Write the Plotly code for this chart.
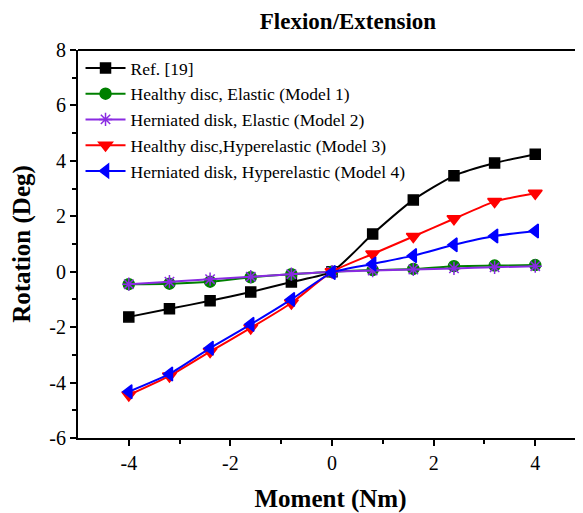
import plotly.graph_objects as go

moment = [-4, -3.2, -2.4, -1.6, -0.8, 0, 0.8, 1.6, 2.4, 3.2, 4]
ref19 = [-1.63, -1.34, -1.05, -0.73, -0.37, 0.0, 1.36, 2.59, 3.46, 3.92, 4.24]
model1 = [-0.45, -0.43, -0.36, -0.2, -0.09, 0.0, 0.06, 0.1, 0.2, 0.22, 0.24]
model2 = [-0.45, -0.36, -0.27, -0.18, -0.09, 0.0, 0.04, 0.08, 0.12, 0.16, 0.2]
model3 = [-4.45, -3.76, -2.88, -2.03, -1.13, 0.0, 0.64, 1.27, 1.91, 2.53, 2.83]
model4 = [-4.33, -3.69, -2.76, -1.9, -1.0, -0.03, 0.28, 0.58, 0.97, 1.29, 1.47]

x_ticks = [-4, -2, 0, 2, 4]
x_labels = ["-4", "-2", "0", "2", "4"]
y_ticks = [-6, -4, -2, 0, 2, 4, 6, 8]
y_labels = ["-6", "-4", "-2", "0", "2", "4", "6", "8"]

series = [
    ("Ref. [19]", ref19, "black", "square", 10),
    ("Healthy disc, Elastic (Model 1)", model1, "#008000", "circle", 11),
    ("Herniated disk, Elastic (Model 2)", model2, "#8A2BE2", "asterisk-open", 11),
    ("Healthy disc,Hyperelastic (Model 3)", model3, "#FF0000", "triangle-down", 12),
    ("Herniated disk, Hyperelastic (Model 4)", model4, "#0000FF", "triangle-left", 12),
]

fig = go.Figure()
for name, ys, col, sym, sz in series:
    fig.add_trace(go.Scatter(
        x=moment, y=ys, name=name, mode="lines+markers",
        line=dict(color=col, width=2, shape="spline", smoothing=0.6),
        marker=dict(symbol=sym, size=sz, color=col, line=dict(color=col, width=1.5)),
    ))

# page body has an 8px default margin, so the figure is sized/placed to compensate
W, H = 575, 505
font_family = "Liberation Serif, Times New Roman, serif"
fig.update_layout(
    width=W, height=H,
    margin=dict(l=70, r=0, t=42, b=75),
    plot_bgcolor="white", paper_bgcolor="white",
    font=dict(family=font_family, color="black"),
    title=dict(text="<b>Flexion/Extension</b>", x=340 / W, xanchor="center", y=1 - 13 / H,
               yanchor="middle", font=dict(size=23, family=font_family)),
    legend=dict(x=0.005, y=1.0, xanchor="left", yanchor="top",
                bgcolor="rgba(0,0,0,0)", font=dict(size=17.5, family=font_family),
                tracegroupgap=0, itemwidth=40),
    showlegend=True,
)
fig.update_xaxes(
    range=[-5, 4.94], tickvals=x_ticks, ticktext=x_labels,
    ticks="outside", ticklen=6, tickwidth=1.5, tickcolor="black",
    minor=dict(tickvals=[-3, -1, 1, 3], ticks="outside", ticklen=4, tickwidth=1.5, tickcolor="black"),
    showline=True, linecolor="black", linewidth=2, showgrid=False, zeroline=False,
    tickfont=dict(size=20, family=font_family), automargin=False,
    title=dict(text="<b>Moment (Nm)</b>", font=dict(size=25, family=font_family), standoff=18),
)
fig.update_yaxes(
    range=[-6, 8], tickvals=y_ticks, ticktext=y_labels,
    ticks="outside", ticklen=6, tickwidth=1.5, tickcolor="black",
    minor=dict(tickvals=[-5, -3, -1, 1, 3, 5, 7], ticks="outside", ticklen=4, tickwidth=1.5, tickcolor="black"),
    showline=True, linecolor="black", linewidth=2, showgrid=False, zeroline=False,
    tickfont=dict(size=20, family=font_family), automargin=False,
    title=dict(text="<b>Rotation (Deg)</b>", font=dict(size=25, family=font_family), standoff=14),
)
fig.add_shape(type="line", xref="paper", yref="paper", x0=0, x1=1, y0=1, y1=1,
              line=dict(color="black", width=2))
fig.write_html("out.html")
